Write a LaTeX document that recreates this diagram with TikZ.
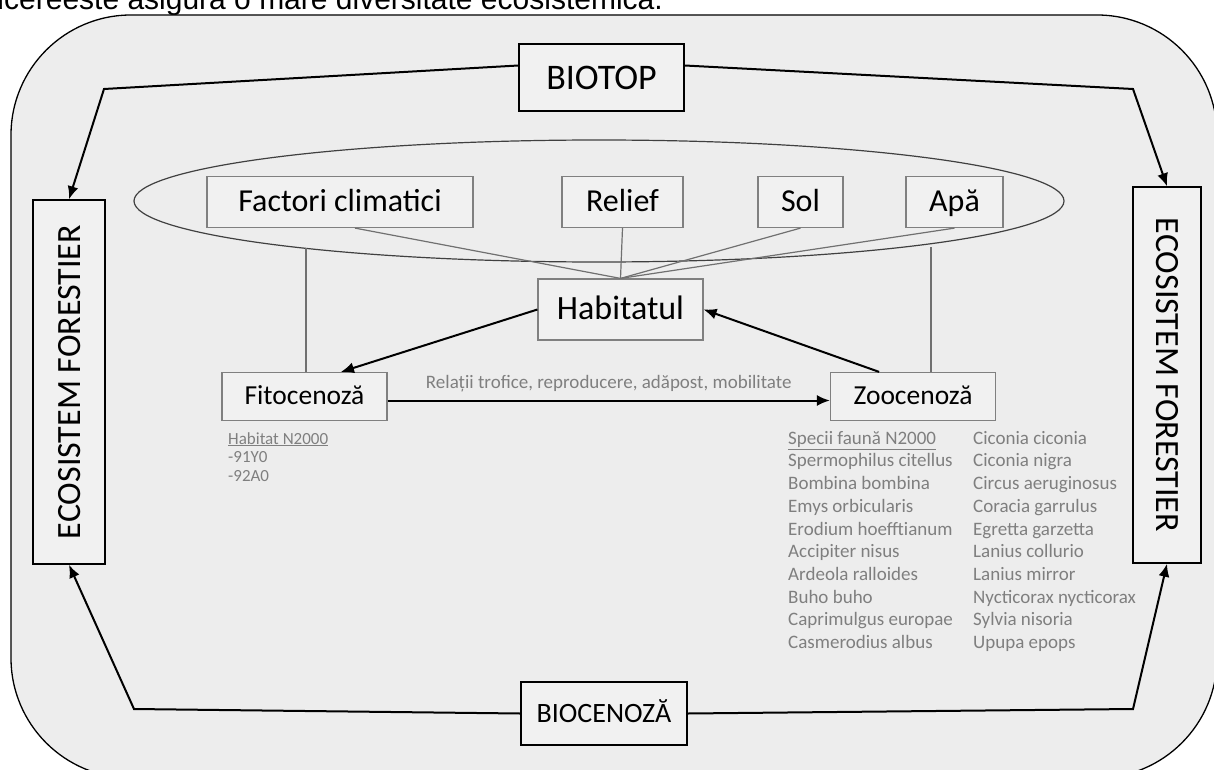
\documentclass[tikz,border=0pt]{standalone}
\usepackage{fontspec}
\setmainfont{Carlito}
\newfontfamily\arialfont{Liberation Sans}
\usetikzlibrary{positioning, shapes.geometric, arrows.meta}

\definecolor{bgfill}{HTML}{EDEDED}
\definecolor{boxfill}{HTML}{F1F1F1}
\definecolor{linegray}{HTML}{707070}
\definecolor{framegray}{HTML}{808080}
\definecolor{textgray}{HTML}{7F7F7F}
\definecolor{ellgray}{HTML}{404040}

\begin{document}
\begin{tikzpicture}[
            x=1pt, y=-1pt,
            mainbox/.style={draw=black, line width=1.5pt, fill=boxfill, inner sep=0pt, execute at begin node=\strut, font=\fontsize{36}{58}\selectfont},
            ecobox/.style={mainbox, font=\fontsize{34}{55}\selectfont},
            factor/.style={draw=framegray, line width=1.2pt, fill=boxfill, inner sep=0pt, minimum height=51pt, execute at begin node=\strut, font=\fontsize{32}{48}\selectfont},
            cenbox/.style={factor, minimum width=165pt, minimum height=48pt, font=\fontsize{27.5}{41}\selectfont},
            edge/.style={-{Latex[length=13pt, width=11pt]}, line width=2pt},
            link/.style={draw=linegray, line width=1.2pt},
            varlabel/.style={text=textgray, font=\fontsize{19}{22}\selectfont},
            speclist/.style={text=textgray, align=left, anchor=north west, inner sep=0pt, font=\fontsize{19}{22.7}\selectfont}
        ]

        \useasboundingbox (0,0) rectangle (1214,770);
        \clip (0,0) rectangle (1214,770);
        \fill[white] (0,0) rectangle (1214,770);

        % Text oben
        \node[anchor=base east, inner sep=0pt, font=\arialfont\fontsize{30}{34}\selectfont] (intro) at (663,10) {ducereeste asigură o mare diversitate ecosistemică.};

        % Rahmen
        \draw[fill=bgfill, line width=1.3pt, rounded corners=120pt] (11,15) rectangle (1217,778);

        % Knoten
        \node[mainbox, minimum width=165pt, minimum height=67pt] (biotop) at (601.5,77.5) {BIOTOP};
        \node[mainbox, minimum width=166pt, minimum height=63pt, font=\fontsize{28}{45}\selectfont] (biocen) at (604,713.5) {BIOCENOZĂ};
        \node[ecobox, minimum width=364pt, minimum height=72pt, rotate=90] (ecoL) at (69,382) {ECOSISTEM FORESTIER};
        \node[ecobox, minimum width=376pt, minimum height=68pt, rotate=-90] (ecoR) at (1167,375) {ECOSISTEM FORESTIER};

        \node[draw=ellgray, line width=1.2pt, ellipse, minimum width=930pt, minimum height=122pt, inner sep=0pt] (ell) at (599,201) {};
        \node[factor, minimum width=266pt] (climat) at (340,202) {Factori climatici};
        \node[factor, minimum width=121pt] (relief) at (622.5,202) {Relief};
        \node[factor, minimum width=85pt] (sol) at (800.5,202) {Sol};
        \node[factor, minimum width=97pt] (apa) at (954.5,202) {Apă};

        \node[factor, minimum width=165pt, minimum height=61pt, font=\fontsize{34}{51}\selectfont] (hab) at (620.5,309.5) {Habitatul};
        \node[cenbox] (fito) at (304.5,396.5) {Fitocenoză};
        \node[cenbox] (zoo) at (913,396.5) {Zoocenoză};

        % Listen
        \node[speclist, font=\fontsize{17}{18.5}\selectfont] (habN) at (228,432) {\underline{Habitat N2000}\\-91Y0\\-92A0};
        \node[speclist] (faunaA) at (788,431) {\underline{Specii faună N2000}\\Spermophilus citellus\\Bombina bombina\\Emys orbicularis\\Erodium hoefftianum\\Accipiter nisus\\Ardeola ralloides\\Buho buho\\Caprimulgus europae\\Casmerodius albus};
        \node[speclist] (faunaB) at (973,431) {Ciconia ciconia\\Ciconia nigra\\Circus aeruginosus\\Coracia garrulus\\Egretta garzetta\\Lanius collurio\\Lanius mirror\\Nycticorax nycticorax\\Sylvia nisoria\\Upupa epops};

        % Kanten
        \coordinate (tl) at (104,89);
        \coordinate (tr) at (1133,89);
        \coordinate (bl) at (134,709);
        \coordinate (br) at (1133,709);
        \coordinate (eL) at (306,248);
        \coordinate (eR) at (931,247);

        \draw[link] ([xshift=15pt]climat.south) -- (hab.north);
        \draw[link] (relief.south) -- (hab.north);
        \draw[link] (sol.south) -- (hab.north);
        \draw[link] (apa.south) -- (hab.north);
        \draw[link] (fito.north -| eL) -- (eL);
        \draw[link] (zoo.north -| eR) -- (eR);

        \draw[edge] ([yshift=12pt]biotop.west) -- (tl) -- (ecoL.east);
        \draw[edge] ([yshift=12pt]biotop.east) -- (tr) -- (ecoR.west);
        \draw[edge] (biocen.west) -- (bl) -- (ecoL.west);
        \draw[edge] (biocen.east) -- (br) -- (ecoR.east);

        \draw[edge] (hab.west) -- (fito.34);
        \draw[edge] (zoo.144) -- (hab.east);
        \draw[edge] ([yshift=-4pt]fito.east) -- ([yshift=-4pt]zoo.west) node[midway, above=4pt, varlabel] {Relații trofice, reproducere, adăpost, mobilitate};

    \end{tikzpicture}
\end{document}
